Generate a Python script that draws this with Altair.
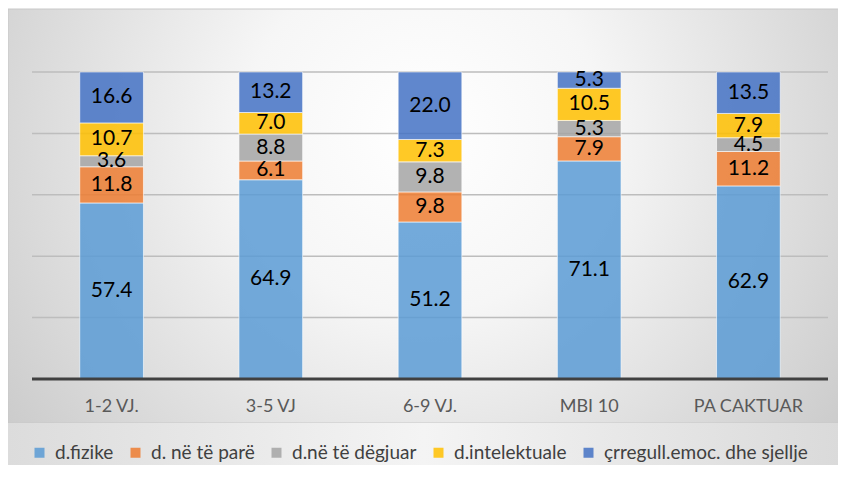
import altair as alt
import pandas as pd

categories = ["1-2 VJ.", "3-5 VJ", "6-9 VJ.", "MBI 10", "PA CAKTUAR"]
series = ["d.fizike", "d. në të parë", "d.në të dëgjuar", "d.intelektuale",
          "çrregull.emoc. dhe sjellje"]
colors = ["#5B9BD5", "#ED7D31", "#A5A5A5", "#FFC000", "#4472C4"]

fizike = [57.4, 64.9, 51.2, 71.1, 62.9]
pare = [11.8, 6.1, 9.8, 7.9, 11.2]
degjuar = [3.6, 8.8, 9.8, 5.3, 4.5]
intelektuale = [10.7, 7.0, 7.3, 10.5, 7.9]
emoc = [16.6, 13.2, 22.0, 5.3, 13.5]

grid_values = [0.2, 0.4, 0.6, 0.8, 1.0]

rows = []
for si, (name, vals) in enumerate(zip(series, [fizike, pare, degjuar, intelektuale, emoc])):
    for ci, cat in enumerate(categories):
        rows.append({"cat": cat, "series": name, "order": si, "value": vals[ci]})
df = pd.DataFrame(rows)

W, H = 796, 307
PAD = {"left": 24, "top": 64, "right": 10, "bottom": 86}

one = pd.DataFrame({"a": [0]})

bg = alt.Chart(one).mark_rect(
    fill={"gradient": "radial", "x1": 0.5, "y1": 0.4, "r1": 0,
          "x2": 0.5, "y2": 0.4, "r2": 0.72,
          "stops": [{"offset": 0, "color": "#ffffff"},
                    {"offset": 0.3, "color": "#f6f6f6"},
                    {"offset": 1, "color": "#c0c0c0"}]},
    stroke="#c8c8c8", strokeWidth=1,
).encode(x=alt.value(-24), x2=alt.value(W + 12), y=alt.value(-63), y2=alt.value(351))

band = alt.Chart(one).mark_rect(
    fill={"gradient": "linear", "x1": 0, "y1": 0, "x2": 1, "y2": 0,
          "stops": [{"offset": 0, "color": "#dcdcdc"},
                    {"offset": 0.5, "color": "#f4f4f4"},
                    {"offset": 1, "color": "#dadada"}]},
).encode(x=alt.value(-24), x2=alt.value(W + 12), y=alt.value(351), y2=alt.value(H + 90))

grid = alt.Chart(pd.DataFrame({"g": grid_values})).mark_rule(
    stroke="#bdbdbd", strokeWidth=1.5
).encode(
    y=alt.Y("g:Q", scale=alt.Scale(domain=[0, 1], nice=False), axis=None),
    x=alt.value(0), x2=alt.value(W),
)

xenc = alt.X("cat:N", sort=categories, title=None,
             scale=alt.Scale(paddingInner=0.6, paddingOuter=0.3),
             axis=alt.Axis(labelAngle=0, domain=False, ticks=False, grid=False,
                           labelFont="Lato", labelFontSize=18, labelColor="#595959",
                           labelBaseline="middle", labelPadding=27, zindex=1))

base = alt.Chart(df).transform_stack(
    stack="value", as_=["y0", "y1"], groupby=["cat"],
    sort=[alt.SortField("order", order="ascending")], offset="normalize"
).transform_calculate(mid="(datum.y0 + datum.y1) / 2")

bars = base.mark_bar(fillOpacity=0.85, stroke="#ffffff", strokeWidth=1, strokeOpacity=0.6).encode(
    x=xenc,
    y=alt.Y("y0:Q", scale=alt.Scale(domain=[0, 1], nice=False), axis=None),
    y2="y1:Q",
    color=alt.Color("series:N", sort=series, title=None,
                    scale=alt.Scale(domain=series, range=colors),
                    legend=alt.Legend(orient="none", direction="horizontal",
                                      legendX=-2, legendY=371, columns=5,
                                      symbolType="square", symbolSize=100,
                                      symbolStrokeWidth=0, symbolOpacity=0.85,
                                      labelFont="Lato", labelFontSize=19,
                                      labelColor="#404040", labelOffset=6,
                                      labelLimit=400,
                                      columnPadding=12, padding=0, zindex=1)),
    order=alt.Order("order:Q"),
)

labels = base.mark_text(font="Lato", fontSize=21, color="#000000", baseline="middle").encode(
    x=alt.X("cat:N", sort=categories),
    y=alt.Y("mid:Q", scale=alt.Scale(domain=[0, 1], nice=False), axis=None),
    text=alt.Text("value:Q", format=".1f"),
)

baseline = alt.Chart(one).mark_rule(stroke="#404040", strokeWidth=3).encode(
    y=alt.value(H), x=alt.value(0), x2=alt.value(W)
)

chart = alt.layer(bg, band, grid, bars, labels, baseline).properties(
    width=W, height=H, autosize="none", padding=PAD
).configure_view(stroke=None).configure(background="#ffffff")

chart.save("out.html", embed_options={"renderer": "svg", "actions": False})
